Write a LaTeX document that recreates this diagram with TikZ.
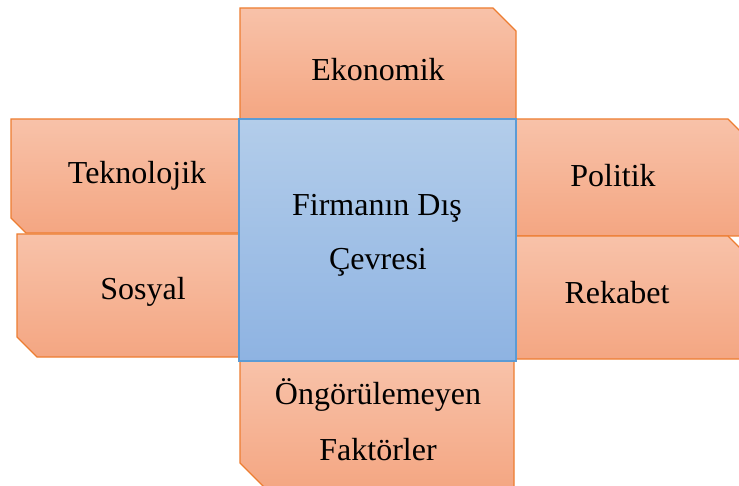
\documentclass[tikz,border=0pt]{standalone}
\usepackage{fontspec}
\setmainfont{Liberation Serif}
\definecolor{boxtop}{HTML}{F8C2A9}
\definecolor{boxbot}{HTML}{F4A682}
\definecolor{boxline}{HTML}{ED7D31}
\definecolor{coretop}{HTML}{B3CDEA}
\definecolor{corebot}{HTML}{8EB3E2}
\definecolor{coreline}{HTML}{5B9BD5}
\tikzset{
  factor/.style={draw=boxline, line width=1.1pt, top color=boxtop, bottom color=boxbot, line join=miter},
  core/.style={draw=coreline, line width=1.5pt, top color=coretop, bottom color=corebot},
  lbl/.style={font=\fontsize{32}{38}\selectfont\rmfamily, text=black, inner sep=0pt},
}
\begin{document}
\begin{tikzpicture}[x=1pt, y=-1pt]
\useasboundingbox (0,0) rectangle (739,486);
\clip (0,0) rectangle (739,486);
% surrounding factors
\draw[factor] (240,8) -- (493,8) -- (516,31) -- (516,119) -- (240,119) -- cycle;
\draw[factor] (240,361) -- (514,361) -- (514,490) -- (267,490) -- (240,463) -- cycle;
\draw[factor] (11,119) -- (240,119) -- (240,233) -- (26,233) -- (11,218) -- cycle;
\draw[factor] (17,234) -- (240,234) -- (240,357) -- (37,357) -- (17,337) -- cycle;
\draw[factor] (516,119) -- (728,119) -- (751,142) -- (751,236) -- (516,236) -- cycle;
\draw[factor] (516,236) -- (728,236) -- (751,259) -- (751,359) -- (516,359) -- cycle;
% central box
\draw[core] (239,119) rectangle (516,361);
% labels
\node[lbl] (eko) at (378,70) {Ekonomik};
\node[lbl] (tek) at (137,176) {Teknolojik};
\node[lbl] (pol) at (613,176) {Politik};
\node[lbl] (sos) at (143,292) {Sosyal};
\node[lbl] (rek) at (617,293) {Rekabet};
\node[lbl] (fir1) at (377,208) {Firmanın Dış};
\node[lbl] (fir2) at (378,262) {Çevresi};
\node[lbl] (ong1) at (378,395) {Öngörülemeyen};
\node[lbl] (ong2) at (378,450) {Faktörler};
\end{tikzpicture}
\end{document}
